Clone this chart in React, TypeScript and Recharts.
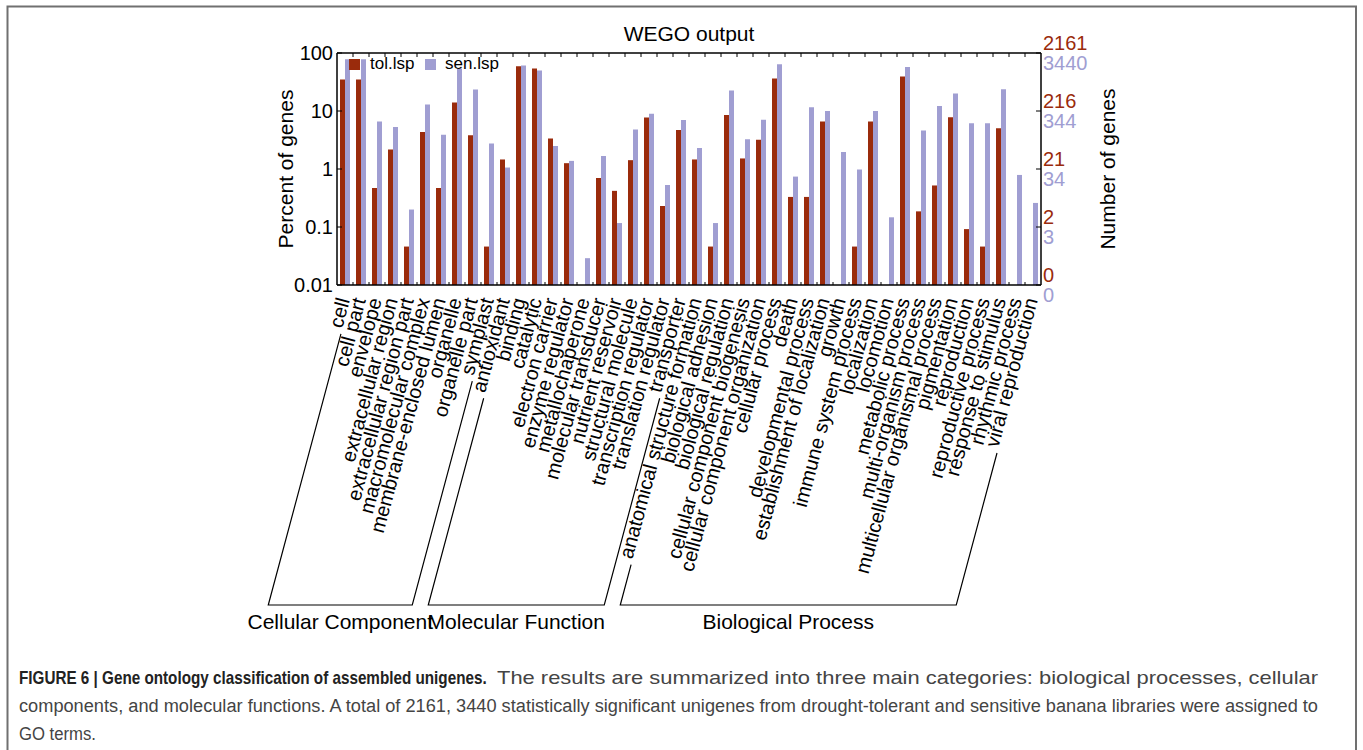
import React from "react";
import { BarChart, Bar, XAxis, YAxis } from "recharts";

const categories = [
  "cell", "cell part", "envelope", "extracellular region", "extracellular region part",
  "macromolecular complex", "membrane-enclosed lumen", "organelle", "organelle part", "symplast",
  "antioxidant", "binding", "catalytic", "electron carrier", "enzyme regulator",
  "metallochaperone", "molecular transducer", "nutrient reservoir", "structural molecule",
  "transcription regulator", "translation regulator", "transporter",
  "anatomical structure formation", "biological adhesion", "biological regulation",
  "cellular component biogenesis", "cellular component organization", "cellular process",
  "death", "developmental process", "establishment of localization", "growth",
  "immune system process", "localization", "locomotion", "metabolic process",
  "multi-organism process", "multicellular organismal process", "pigmentation",
  "reproduction", "reproductive process", "response to stimulus", "rhythmic process",
  "viral reproduction",
];

// percent of genes, tol.lsp (null = no genes)
const tolPercent = [
  35, 35, 0.47, 2.17, 0.046, 4.36, 0.47, 14, 3.8, 0.046,
  1.46, 58.9, 53.8, 3.36, 1.26, null, 0.7, 0.42, 1.42, 7.7, 0.23, 4.7,
  1.46, 0.046, 8.55, 1.52, 3.2, 36.2, 0.33, 0.33, 6.6, null, 0.046, 6.6,
  null, 39.2, 0.186, 0.52, 7.8, 0.092, 0.046, 5.05, null, null,
];

// percent of genes, sen.lsp
const senPercent = [
  77.8, 77.8, 6.6, 5.3, 0.2, 12.9, 3.9, 53.8, 23.4, 2.75,
  1.06, 60.6, 49.7, 2.5, 1.38, 0.029, 1.68, 0.117, 4.8, 9.0, 0.53, 7.0,
  2.31, 0.117, 22.5, 3.27, 7.1, 63.8, 0.74, 11.6, 10.0, 1.97, 0.98, 10.0,
  0.147, 57.3, 4.6, 12.2, 20.0, 6.15, 6.15, 23.7, 0.79, 0.26,
];

const seriesNames = ["tol.lsp", "sen.lsp"];
const percentTicks = [0.01, 0.1, 1, 10, 100];
const tolGeneTicks = ["0", "2", "21", "216", "2161"];
const senGeneTicks = ["0", "3", "34", "344", "3440"];

const groupNames = ["Cellular Component", "Molecular Function", "Biological Process"];
const groupFirst = [0, 10, 22];
const groupLast = [9, 21, 43];

const captionBold = "FIGURE 6 | Gene ontology classification of assembled unigenes.";

const TOL = "#9a2b0c";
const SEN = "#a09ed2";
const FONT = "'Liberation Sans', Arial, Helvetica, sans-serif";

const W = 1363;
const CHART_H = 640;
const PLOT_LEFT = 337;
const PLOT_RIGHT = 1041;
const PLOT_TOP = 53;
const PLOT_BOTTOM = 285;
const LABEL_Y = PLOT_BOTTOM + 15;
const BRACKET_Y = 605;
const ANGLE = (75 * Math.PI) / 180;

const data = categories.map((name, i) => ({
  name,
  tol: tolPercent[i],
  sen: senPercent[i],
}));

let ctx: CanvasRenderingContext2D | null = null;
const measure = (text: string, font = `20px ${FONT}`) => {
  if (!ctx) ctx = document.createElement("canvas").getContext("2d");
  if (!ctx) return text.length * 9.5;
  ctx.font = font;
  return ctx.measureText(text).width;
};

const catX = (i: number) =>
  PLOT_LEFT + ((i + 0.5) * (PLOT_RIGHT - PLOT_LEFT)) / categories.length;

// where a rotated category label begins (bottom-left end of its text)
const labelStart = (i: number) => {
  const len = measure(categories[i]) + 5;
  return [catX(i) + 5 - len * Math.cos(ANGLE), LABEL_Y + len * Math.sin(ANGLE)];
};
const toBase = ([x, y]: number[]) => [x - ((BRACKET_Y - y) * Math.cos(ANGLE)) / Math.sin(ANGLE), BRACKET_Y];

const CategoryTick = (props: any) => {
  const { x, payload } = props;
  const ax = x + 5;
  return (
    <text
      x={ax}
      y={LABEL_Y}
      transform={`rotate(-75 ${ax} ${LABEL_Y})`}
      textAnchor="end"
      fontSize={20}
      fontFamily={FONT}
      fill="#000"
    >
      {payload.value}
    </text>
  );
};

const LeftTick = (props: any) => {
  const { y, payload } = props;
  return (
    <g>
      <line x1={PLOT_LEFT} x2={PLOT_LEFT + 5} y1={y} y2={y} stroke="#000" />
      <text x={333} y={y} textAnchor="end" dominantBaseline="central" fontSize={20} fontFamily={FONT} fill="#000">
        {payload.value}
      </text>
    </g>
  );
};

const RightTick = (props: any) => {
  const { y, payload } = props;
  const idx = percentTicks.indexOf(payload.value);
  return (
    <g>
      <line x1={PLOT_RIGHT - 5} x2={PLOT_RIGHT} y1={y} y2={y} stroke="#000" />
      <text x={PLOT_RIGHT + 2} y={y - 10} dominantBaseline="central" fontSize={20} fontFamily={FONT} fill={TOL}>
        {tolGeneTicks[idx]}
      </text>
      <text x={PLOT_RIGHT + 2} y={y + 10} dominantBaseline="central" fontSize={20} fontFamily={FONT} fill={SEN}>
        {senGeneTicks[idx]}
      </text>
    </g>
  );
};

const Overlay = () => {
  const step = (PLOT_RIGHT - PLOT_LEFT) / categories.length;
  const boundaries = categories.slice(1).map((_, k) => PLOT_LEFT + (k + 1) * step);
  const boldScale = 468 / measure(captionBold, `bold 18px ${FONT}`);
  return (
    <svg
      width={W}
      height={750}
      style={{ position: "absolute", left: 0, top: 0, pointerEvents: "none" }}
      fontFamily={FONT}
    >
      {/* figure frame */}
      <path d="M7.5 750 V6.5 H1356 V750" fill="none" stroke="#707070" strokeWidth={2} />

      <text x={(PLOT_LEFT + PLOT_RIGHT) / 2} y={41} textAnchor="middle" fontSize={21}>
        WEGO output
      </text>

      {/* plot box top + ticks */}
      <line x1={PLOT_LEFT} x2={PLOT_RIGHT} y1={PLOT_TOP} y2={PLOT_TOP} stroke="#000" strokeWidth={1.5} />
      {boundaries.map((bx, k) => (
        <g key={k}>
          <line x1={bx} x2={bx} y1={PLOT_TOP} y2={PLOT_TOP + 4} stroke="#000" />
          <line x1={bx} x2={bx} y1={PLOT_BOTTOM} y2={PLOT_BOTTOM - 3} stroke="#000" />
        </g>
      ))}

      <text
        x={285}
        y={(PLOT_TOP + PLOT_BOTTOM) / 2}
        transform={`rotate(-90 285 ${(PLOT_TOP + PLOT_BOTTOM) / 2})`}
        textAnchor="middle"
        dominantBaseline="central"
        fontSize={21}
      >
        Percent of genes
      </text>
      <text
        x={1107}
        y={(PLOT_TOP + PLOT_BOTTOM) / 2}
        transform={`rotate(-90 1107 ${(PLOT_TOP + PLOT_BOTTOM) / 2})`}
        textAnchor="middle"
        dominantBaseline="central"
        fontSize={21}
      >
        Number of genes
      </text>

      {/* legend */}
      <rect x={349} y={59} width={11} height={11} fill={TOL} />
      <text x={370} y={69} fontSize={17}>{seriesNames[0]}</text>
      <rect x={425} y={59} width={11} height={11} fill={SEN} />
      <text x={445} y={69} fontSize={17}>{seriesNames[1]}</text>

      {/* GO category brackets */}
      {groupNames.map((g, k) => {
        const a = labelStart(groupFirst[k]);
        const b = labelStart(groupLast[k]);
        const a0 = toBase(a);
        const b0 = toBase(b);
        return (
          <g key={g}>
            <path
              d={`M${a[0]} ${a[1]} L${a0[0]} ${a0[1]} L${b0[0]} ${b0[1]} L${b[0]} ${b[1]}`}
              fill="none"
              stroke="#000"
              strokeWidth={1.2}
            />
            <text x={(a0[0] + b0[0]) / 2} y={629} textAnchor="middle" fontSize={21}>
              {g}
            </text>
          </g>
        );
      })}

      {/* caption */}
      <text
        x={0}
        y={0}
        transform={`translate(19 684) scale(${boldScale} 1)`}
        fontSize={18}
        fontWeight="bold"
        fill="#222"
      >
        {captionBold}
      </text>
      <text x={497} y={684} fontSize={19} fill="#444" textLength={821} lengthAdjust="spacingAndGlyphs">
        The results are summarized into three main categories: biological processes, cellular
      </text>
      <text x={19} y={712} fontSize={18} fill="#444" textLength={1299} lengthAdjust="spacingAndGlyphs">
        components, and molecular functions. A total of 2161, 3440 statistically significant unigenes from drought-tolerant and sensitive banana libraries were assigned to
      </text>
      <text x={19} y={740} fontSize={18} fill="#444" textLength={77} lengthAdjust="spacingAndGlyphs">
        GO terms.
      </text>
    </svg>
  );
};

export default function App() {
  return (
    <div style={{ position: "absolute", left: 0, top: 0, width: W, height: 750, background: "#fff" }}>
      <div style={{ position: "absolute", left: 0, top: 0 }}>
        <BarChart
          width={W}
          height={CHART_H}
          data={data}
          barSize={5}
          barGap={0}
          margin={{ top: PLOT_TOP, right: W - PLOT_RIGHT - 80, bottom: CHART_H - PLOT_BOTTOM - 320, left: PLOT_LEFT - 80 }}
        >
          <XAxis
            dataKey="name"
            interval={0}
            height={320}
            tickLine={false}
            tick={<CategoryTick />}
            axisLine={{ stroke: "#000", strokeWidth: 1.5 }}
          />
          <YAxis
            yAxisId="left"
            scale="log"
            domain={[0.01, 100]}
            ticks={percentTicks}
            allowDataOverflow
            width={80}
            tickLine={false}
            tick={<LeftTick />}
            axisLine={{ stroke: "#000", strokeWidth: 1.5 }}
          />
          <YAxis
            yAxisId="right"
            orientation="right"
            scale="log"
            domain={[0.01, 100]}
            ticks={percentTicks}
            allowDataOverflow
            width={80}
            tickLine={false}
            tick={<RightTick />}
            axisLine={{ stroke: "#000", strokeWidth: 1.5 }}
          />
          <Bar yAxisId="left" dataKey="tol" name={seriesNames[0]} fill={TOL} isAnimationActive={false} />
          <Bar yAxisId="right" dataKey="sen" name={seriesNames[1]} fill={SEN} isAnimationActive={false} />
        </BarChart>
      </div>
      <Overlay />
    </div>
  );
}
